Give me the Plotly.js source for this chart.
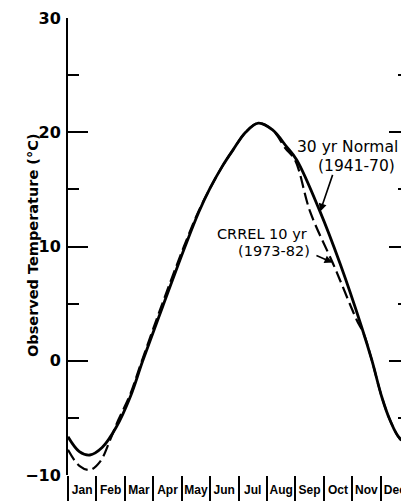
<!DOCTYPE html>
<html>
<head>
<meta charset="utf-8">
<script src="https://cdn.plot.ly/plotly-3.0.1.min.js"></script>
<style>
html,body{margin:0;padding:0;background:#fff;overflow:hidden;width:401px;height:502px;}
#chart{width:409px;height:502px;}
</style>
</head>
<body>
<div id="chart"></div>
<script>
// Month positions (in months since Jan 1) and observed temperatures (°C)
const normalMonths = [0, 0.4, 0.77, 1.2, 1.7, 2.2, 2.63, 3.33, 4.12, 4.6, 5.0, 5.45, 5.82, 6.25, 6.7, 7.2, 7.69, 8.05, 8.87, 9.57, 10.33, 10.69, 11.04, 11.33, 11.68, 12];
const normalTemps  = [-6.65, -7.95, -8.25, -7.6, -5.8, -3.1, 0.0, 4.73, 10.0, 13.0, 15.1, 17.1, 18.5, 20.0, 20.8, 20.2, 18.74, 17.57, 13.05, 8.53, 2.98, 0.07, -3.15, -5.19, -6.79, -7.1];

const crrelMonths = [0, 0.4, 0.77, 1.13, 1.48, 1.77, 2.18, 2.6, 3.28, 4.08, 4.58, 5.0, 5.45, 5.82, 6.25, 6.7, 7.2, 7.65, 7.99, 8.52, 9.31, 9.57, 10.16, 10.4, 10.69, 11.04, 11.33, 11.68, 12];
const crrelTemps  = [-7.8, -9.2, -9.56, -8.83, -6.94, -5.19, -3.0, 0.0, 4.73, 10.0, 13.0, 15.1, 17.1, 18.5, 20.0, 20.8, 20.2, 18.6, 17.57, 13.05, 8.6, 7.07, 3.57, 2.4, 0.07, -3.15, -5.19, -6.85, -7.6];

const monthLabels = ["Jan","Feb","Mar","Apr","May","Jun","Jul","Aug","Sep","Oct","Nov","Dec"];
const monthCenters = monthLabels.map((_, i) => i + 0.5);
const monthBounds = [0,1,2,3,4,5,6,7,8,9,10,11,12];

const yTicks = [-10, 0, 10, 20, 30];

const traces = [
  {x: normalMonths, y: normalTemps, type: 'scatter', mode: 'lines',
   line: {color: '#000', width: 2.8, shape: 'spline', smoothing: 1}, hoverinfo: 'skip'},
  {x: crrelMonths, y: crrelTemps, type: 'scatter', mode: 'lines',
   line: {color: '#000', width: 2.2, dash: '12px,5px', shape: 'spline', smoothing: 1}, hoverinfo: 'skip'}
];

const font = {family: 'DejaVu Sans', color: '#000'};

const layout = {
  width: 409, height: 502,
  margin: {l: 68, r: 0, t: 18, b: 27, pad: 0},
  paper_bgcolor: '#fff', plot_bgcolor: '#fff',
  showlegend: false,
  xaxis: {
    range: [0, 12], showgrid: false, zeroline: false,
    showline: false,
    tickmode: 'array', tickvals: monthCenters, ticktext: monthLabels,
    ticks: '', ticklen: 0, tickangle: 0,
    tickfont: {family: 'Liberation Sans', size: 12, color: '#000', weight: 'bold'},
    ticklabelstandoff: 6,
    minor: {tickmode: 'array', tickvals: monthBounds, ticks: 'outside', ticklen: 25, tickwidth: 2, tickcolor: '#000'}
  },
  xaxis2: {
    overlaying: 'x', anchor: 'y', side: 'bottom',
    range: [0, 12], showgrid: false, zeroline: false,
    showline: true, linewidth: 2, linecolor: '#000', mirror: 'ticks',
    tickmode: 'array', tickvals: monthBounds, ticks: 'inside', ticklen: 12, tickwidth: 2, tickcolor: '#000',
    showticklabels: false
  },
  yaxis: {
    range: [-10, 30], showgrid: false, zeroline: false,
    showline: true, linewidth: 2, linecolor: '#000', mirror: 'ticks',
    tickmode: 'array', tickvals: yTicks,
    ticks: 'inside', ticklen: 20, tickwidth: 2, tickcolor: '#000',
    minor: {dtick: 5, ticks: 'inside', ticklen: 11, tickwidth: 2, tickcolor: '#000'},
    tickfont: {family: 'DejaVu Sans', size: 16, color: '#000', weight: 'bold'},
    ticklabelstandoff: 2
  },
  annotations: [
    {x: -0.103, y: 0.503, xref: 'paper', yref: 'paper', text: 'Observed Temperature (°C)', showarrow: false,
     textangle: -90, font: {family: 'DejaVu Sans', size: 14.5, color: '#000', weight: 'bold'},
     xanchor: 'center', yanchor: 'middle'},
    {x: 9.85, y: 18.71, xref: 'x', yref: 'y', text: '30 yr Normal', showarrow: false,
     font: Object.assign({size: 15.5}, font), xanchor: 'center', yanchor: 'middle'},
    {x: 10.15, y: 17.05, xref: 'x', yref: 'y', text: '(1941-70)', showarrow: false,
     font: Object.assign({size: 15.5}, font), xanchor: 'center', yanchor: 'middle'},
    {x: 6.82, y: 11.1, xref: 'x', yref: 'y', text: 'CRREL 10 yr', showarrow: false,
     font: Object.assign({size: 14.5}, font), xanchor: 'center', yanchor: 'middle'},
    {x: 7.25, y: 9.6, xref: 'x', yref: 'y', text: '(1973-82)', showarrow: false,
     font: Object.assign({size: 14.5}, font), xanchor: 'center', yanchor: 'middle'},
    {x: 8.87, y: 13.05, xref: 'x', yref: 'y', ax: 9.33, ay: 16.4, axref: 'x', ayref: 'y',
     text: '', showarrow: true, arrowhead: 2, arrowsize: 1, arrowwidth: 1.6, arrowcolor: '#000'},
    {x: 9.31, y: 8.6, xref: 'x', yref: 'y', ax: 8.69, ay: 9.26, axref: 'x', ayref: 'y',
     text: '', showarrow: true, arrowhead: 2, arrowsize: 1, arrowwidth: 1.6, arrowcolor: '#000'}
  ]
};

Plotly.newPlot('chart', traces, layout, {staticPlot: true, displayModeBar: false});
</script>
</body>
</html>
